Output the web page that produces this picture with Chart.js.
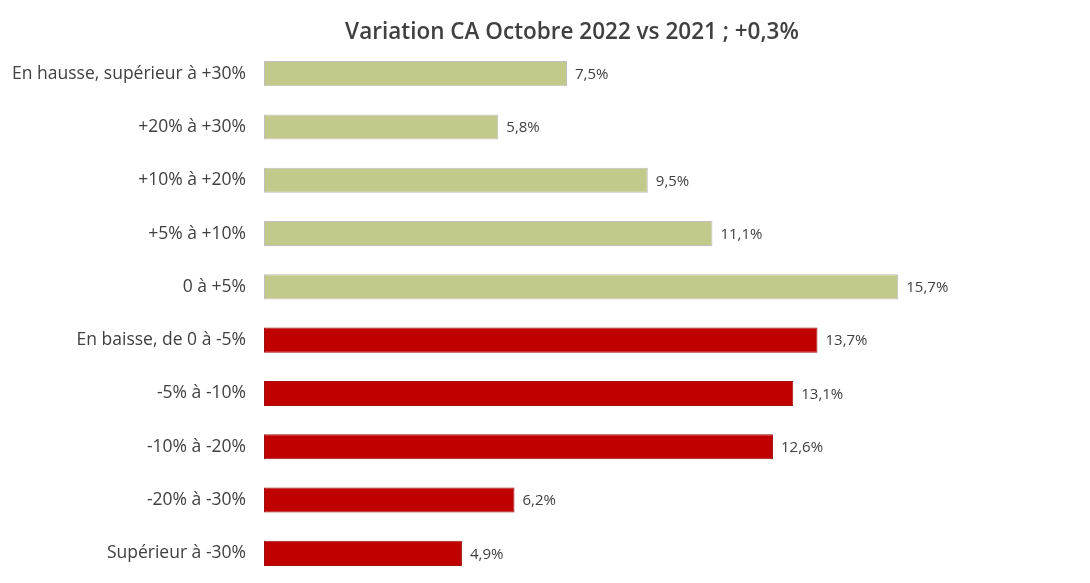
<!DOCTYPE html>
<html lang="fr">
<head>
<meta charset="utf-8">
<title>Variation CA Octobre 2022 vs 2021</title>
<script src="https://cdn.jsdelivr.net/npm/chart.js@4.4.0/dist/chart.umd.min.js"></script>
<style>
    html, body { margin: 0; padding: 0; background: #ffffff; overflow: hidden; }
    canvas { display: block; }
</style>
</head>
<body>
<canvas id="caChart" width="1090" height="583"></canvas>
<script>
// ============================================================
// Data
// ============================================================

const TITLE = 'Variation CA Octobre 2022 vs 2021 ; +0,3%';

const CATEGORIES = [
    'En hausse, supérieur à +30%',
    '+20% à +30%',
    '+10% à +20%',
    '+5% à +10%',
    '0 à +5%',
    'En baisse, de 0 à -5%',
    '-5% à -10%',
    '-10% à -20%',
    '-20% à -30%',
    'Supérieur à -30%'
];

// share of shops, in %
const VALUES = [7.5, 5.8, 9.5, 11.1, 15.7, 13.7, 13.1, 12.6, 6.2, 4.9];

// up (hausse) or down (baisse)
const DIRECTION = ['up', 'up', 'up', 'up', 'up', 'down', 'down', 'down', 'down', 'down'];

const GREEN = '#c3c98b';
const GREEN_EDGE = '#bfbfbf';
const RED = '#c00000';
const RED_EDGE = '#a01010';
const TEXT = '#404040';
const FONT = '"Open Sans", Lato, sans-serif';

// ============================================================
// Plugins: title (offset to the right like the original) and value labels
// ============================================================

const offsetTitle = {
    id: 'offsetTitle',
    afterDraw(chart) {
        const ctx = chart.ctx;
        ctx.save();
        ctx.font = '600 22.5px ' + FONT;
        ctx.fillStyle = TEXT;
        ctx.textAlign = 'center';
        ctx.textBaseline = 'middle';
        ctx.fillText(TITLE, 572, 33);
        ctx.restore();
    }
};

const valueLabels = {
    id: 'valueLabels',
    afterDatasetsDraw(chart) {
        const ctx = chart.ctx;
        const meta = chart.getDatasetMeta(0);
        ctx.save();
        ctx.font = '15px ' + FONT;
        ctx.fillStyle = TEXT;
        ctx.textAlign = 'left';
        ctx.textBaseline = 'middle';
        meta.data.forEach((bar, i) => {
            const txt = VALUES[i].toFixed(1).replace('.', ',') + '%';
            ctx.fillText(txt, bar.x + 8, bar.y + 1);
        });
        ctx.restore();
    }
};

// ============================================================
// Chart
// ============================================================

new Chart(document.getElementById('caChart'), {
    type: 'bar',
    data: {
        labels: CATEGORIES,
        datasets: [{
            data: VALUES,
            backgroundColor: DIRECTION.map(d => d === 'up' ? GREEN : RED),
            borderColor: DIRECTION.map(d => d === 'up' ? GREEN_EDGE : RED_EDGE),
            borderWidth: 1,
            borderSkipped: false,
            categoryPercentage: 1,
            barPercentage: 0.47
        }]
    },
    options: {
        indexAxis: 'y',
        responsive: false,
        animation: false,
        layout: {
            padding: { left: 8, right: 18, top: 47, bottom: 3 }
        },
        plugins: {
            legend: { display: false },
            tooltip: { enabled: false },
            title: { display: false }
        },
        scales: {
            x: {
                display: false,
                min: 0,
                max: 20
            },
            y: {
                grid: { display: false, drawTicks: false },
                border: { display: false },
                ticks: {
                    color: TEXT,
                    font: { family: FONT, size: 17.5 },
                    padding: 18
                },
                afterFit(scale) {
                    scale.width = 256;
                    scale.paddingTop = 0;
                    scale.paddingBottom = 0;
                }
            }
        }
    },
    plugins: [valueLabels, offsetTitle]
});
</script>
</body>
</html>
